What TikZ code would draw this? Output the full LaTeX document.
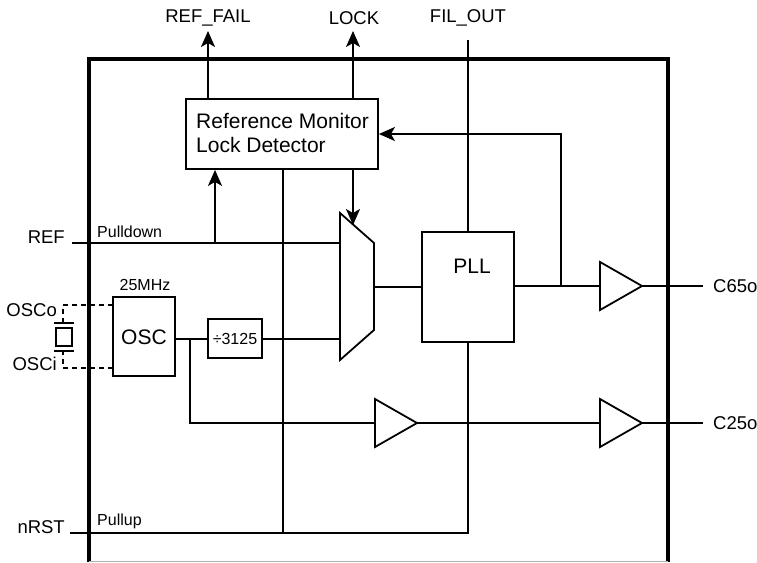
\documentclass[tikz,border=0pt]{standalone}
\usepackage{fontspec}
\setmainfont{Liberation Sans}
\usetikzlibrary{arrows.meta}
\begin{document}
\begin{tikzpicture}[x=1pt,y=-1pt,
  wire/.style={line width=1.8pt},
  border/.style={line width=4.5pt},
  blk/.style={draw,line width=1.8pt,inner sep=0pt},
  arr/.style={wire,-{Stealth[length=16pt,width=14pt,inset=4pt]}},
  lab/.style={inner sep=0pt,font=\fontsize{18.5}{21}\selectfont},
  small/.style={inner sep=0pt,font=\fontsize{16}{18}\selectfont},
  big/.style={inner sep=0pt,font=\fontsize{21}{24}\selectfont},
  buf/.style={wire,fill=white}]
\useasboundingbox (0,0) rectangle (757,562);
% chip border
\draw[border] (89,562) -- (89,59) -- (668,59) -- (668,562);
\draw[line width=1pt,gray!60] (89,561) -- (668,561);
% blocks
\node[blk,minimum width=192pt,minimum height=70pt] (rm) at (282,134) {};
\node[big,anchor=base west] (rmt1) at (196,128) {Reference Monitor};
\node[big,anchor=base west] (rmt2) at (196,152) {Lock Detector};
\node[blk,minimum width=92pt,minimum height=110pt] (pll) at (468,287) {};
\node[big] (pllt) at (472,266) {PLL};
\node[blk,minimum width=62pt,minimum height=79pt] (osc) at (144,336.5) {};
\node[big] (osct) at (144,337) {OSC};
\node[blk,minimum width=54pt,minimum height=39pt] (div) at (235,338.5) {};
\node[small] (divt) at (235,339) {÷3125};
\node[small] (mhz) at (145,285) {25MHz};
% mux
\draw[wire] (340,213) coordinate (muxtl) -- (374,243) -- (374,330) -- (340,360) coordinate (muxbl) -- cycle;
\coordinate (muxin1) at (340,243);
\coordinate (muxin2) at (340,339);
\coordinate (muxout) at (374,287);
\coordinate (muxsel) at (353,225);
% top labels
\node[lab] (reffail) at (208,18) {REF\_FAIL};
\node[lab] (lock) at (354,18) {LOCK};
\node[lab] (filout) at (468,18) {FIL\_OUT};
\coordinate (rfa) at (208,31);
\coordinate (lka) at (353,31);
\coordinate (fil) at (468,40);
\draw[arr] (rm.north -| rfa) -- (rfa);
\draw[arr] (rm.north -| lka) -- (lka);
\draw[wire] (fil) -- (pll.north);
% left labels
\node[lab,anchor=base east] (ref) at (65,243) {REF};
\node[small,anchor=base west] (pd) at (97,237) {Pulldown};
\node[lab,anchor=base east] (nrst) at (65,533) {nRST};
\node[small,anchor=base west] (pu) at (97,525) {Pullup};
\node[lab,anchor=east] (osco) at (57,310) {OSCo};
\node[lab,anchor=east] (osci) at (57,364) {OSCi};
% right labels
\node[lab,anchor=west] (c65) at (713,286) {C65o};
\node[lab,anchor=west] (c25) at (713,423) {C25o};
% REF path
\coordinate (refin) at (72,243);
\coordinate (refj) at (215,243);
\draw[wire] (refin) -- (muxin1);
\draw[arr] (refj) -- (refj |- rm.south);
% lock select arrow
\draw[arr] (rm.south -| muxsel) -- (muxsel);
% vertical to nRST
\coordinate (nrin) at (70,533);
\coordinate (nrj1) at (283,533);
\coordinate (nrj2) at (468,533);
\draw[wire] (rm.south -| nrj1) -- (nrj1);
\draw[wire] (nrin) -- (nrj2) -- (pll.south);
% osc paths
\coordinate (oscj) at (190,339);
\coordinate (c25a) at (190,423);
\draw[wire] (osc.east |- oscj) -- (div.west |- oscj);
\draw[wire] (div.east |- muxin2) -- (muxin2);
\draw[wire] (oscj) -- (c25a) -- (375,423);
% mux to pll
\draw[wire] (muxout) -- (pll.west |- muxout);
% pll out
\coordinate (fbj) at (561,286);
\coordinate (fbt) at (561,134);
\draw[wire] (pll.east |- fbj) -- (600,286);
\draw[arr] (fbj) -- (fbt) -- (rm.east |- fbt);
% buffers
\draw[buf] (600,262) coordinate (b1) -- (642,286) coordinate (b1o) -- (600,310) -- cycle;
\draw[buf] (600,399) coordinate (b2) -- (642,423) coordinate (b2o) -- (600,447) -- cycle;
\draw[buf] (375,399) coordinate (b3) -- (417,423) coordinate (b3o) -- (375,447) -- cycle;
\draw[wire] (b1o) -- (703,286);
\draw[wire] (b3o) -- (600,423);
\draw[wire] (b2o) -- (703,423);
% crystal
\draw[wire,dashed,dash pattern=on 5pt off 4pt] (113,305) -- (63,305) -- (63,323);
\draw[wire,dashed,dash pattern=on 5pt off 4pt] (113,368) -- (63,368) -- (63,351);
\draw[wire] (54,323) -- (74,323);
\draw[wire] (54,351) -- (74,351);
\draw[wire] (56,328) rectangle (72,346);
\end{tikzpicture}
\end{document}
